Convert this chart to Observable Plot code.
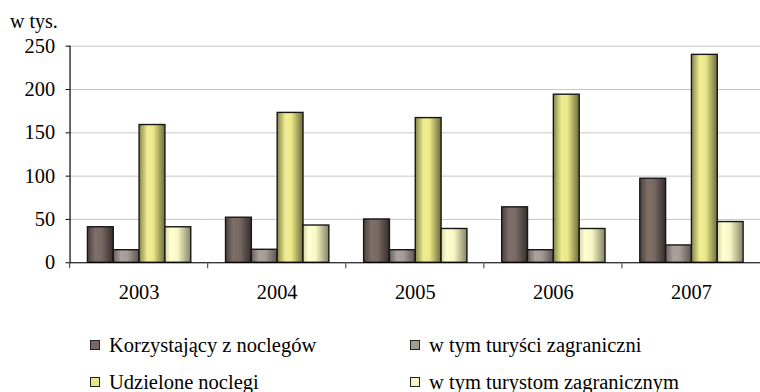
<!DOCTYPE html>
<html>
<head>
<meta charset="utf-8">
<script src="https://cdn.jsdelivr.net/npm/d3@7"></script>
<script src="https://cdn.jsdelivr.net/npm/@observablehq/plot@0.6"></script>
<style>
  html, body { margin: 0; padding: 0; background: #fff; overflow: hidden; }
  body { font-family: "Liberation Serif", "Tinos", "DejaVu Serif", serif; color: #000; }
  #wrap { position: relative; width: 760px; height: 392px; overflow: hidden; }
  #unit { position: absolute; left: 10px; top: 11px; font-size: 20px; line-height: 20px; }
  #legend { position: absolute; left: 0; top: 310px; width: 760px; }
  .item { position: absolute; font-size: 20.5px; line-height: 20px; white-space: nowrap; display: flex; align-items: center; }
  .sw { width: 8px; height: 8px; border: 1px solid #222; margin-right: 9px; }
  svg text { font-family: "Liberation Serif", "Tinos", "DejaVu Serif", serif; }
</style>
</head>
<body>
<svg width="0" height="0" style="position:absolute">
  <defs>
    <linearGradient id="g0" x1="0" x2="1" y1="0" y2="0">
      <stop offset="0%" stop-color="#4a403c"/>
      <stop offset="30%" stop-color="#7e6f69"/>
      <stop offset="55%" stop-color="#786964"/>
      <stop offset="100%" stop-color="#362e2b"/>
    </linearGradient>
    <linearGradient id="g1" x1="0" x2="1" y1="0" y2="0">
      <stop offset="0%" stop-color="#6a625f"/>
      <stop offset="30%" stop-color="#aba19d"/>
      <stop offset="55%" stop-color="#a59b97"/>
      <stop offset="100%" stop-color="#5c5451"/>
    </linearGradient>
    <linearGradient id="g2" x1="0" x2="1" y1="0" y2="0">
      <stop offset="0%" stop-color="#85844a"/>
      <stop offset="32%" stop-color="#f0ed92"/>
      <stop offset="55%" stop-color="#ece88a"/>
      <stop offset="100%" stop-color="#6c6b3a"/>
    </linearGradient>
    <linearGradient id="g3" x1="0" x2="1" y1="0" y2="0">
      <stop offset="0%" stop-color="#d6d6ac"/>
      <stop offset="22%" stop-color="#fefed2"/>
      <stop offset="50%" stop-color="#f7f6c4"/>
      <stop offset="100%" stop-color="#858366"/>
    </linearGradient>
  </defs>
</svg>
<div id="wrap">
  <div id="chart"></div>
  <div id="unit">w tys.</div>
  <div id="legend"></div>
</div>
<script>
const years = ["2003", "2004", "2005", "2006", "2007"];
const series = ["Korzystający z noclegów", "w tym turyści zagraniczni", "Udzielone noclegi", "w tym turystom zagranicznym"];
const korzystajacy = [41, 52, 50, 64, 97];
const turysciZagraniczni = [14.5, 15, 14.5, 14.5, 20];
const udzieloneNoclegi = [159, 173, 167, 194, 240];
const turystomZagranicznym = [41, 43, 39, 39, 47];
const yTicks = [0, 50, 100, 150, 200, 250];

const seriesValues = [korzystajacy, turysciZagraniczni, udzieloneNoclegi, turystomZagranicznym];
const fills = ["url(#g0)", "url(#g1)", "url(#g2)", "url(#g3)"];
const swatch = ["#776862", "#a39995", "#e8e48a", "#f6f5c6"];

const data = years.flatMap((year, i) =>
  series.map((s, j) => ({ year, series: s, value: seriesValues[j][i] }))
);

const serif = "'Liberation Serif', 'Tinos', 'DejaVu Serif', serif";

const chart = Plot.plot({
  width: 765,
  height: 310,
  marginLeft: 70,
  marginRight: 0,
  marginTop: 46,
  marginBottom: 46,
  style: { fontFamily: serif, fontSize: "20.5px", color: "#000", background: "transparent" },
  fx: { domain: years, padding: 0, label: null },
  x: { domain: series, paddingInner: 0, paddingOuter: 0.6, axis: null },
  y: { domain: [0, 250], label: null },
  color: { domain: series, range: fills },
  marks: [
    Plot.gridY(yTicks, { stroke: "#c6c6c6", strokeOpacity: 1, strokeWidth: 1 }),
    Plot.barY(data, { fx: "year", x: "series", y: "value", fill: "series", stroke: "#161616", strokeWidth: 1.4 }),
    Plot.ruleY([0], { stroke: "#000", strokeWidth: 1.2 }),
    Plot.frame({ anchor: "left", facetAnchor: "left", stroke: "#000", strokeWidth: 1.2 }),
    Plot.axisY(yTicks, { tickSize: 4, tickPadding: 11, fontSize: 20.5, label: null, stroke: "#000" }),
    Plot.axisFx({ anchor: "bottom", tickSize: 0, tickPadding: 22, fontSize: 20.5, label: null }),
    (index, scales, values, dimensions) => {
      // small tick at the left edge of each year's band, just below the baseline
      const y0 = scales.y(0);
      const g = d3.create("svg:g");
      g.append("line")
        .attr("x1", dimensions.marginLeft).attr("x2", dimensions.marginLeft)
        .attr("y1", y0).attr("y2", y0 + 6)
        .attr("stroke", "#555").attr("stroke-width", 1.2);
      return g.node();
    }
  ]
});
document.getElementById("chart").appendChild(chart);

const legend = document.getElementById("legend");
const pos = [[90, 25], [410, 25], [90, 62], [410, 62]];
series.forEach((s, j) => {
  const it = document.createElement("div");
  it.className = "item";
  it.style.left = pos[j][0] + "px";
  it.style.top = pos[j][1] + "px";
  const sw = document.createElement("span");
  sw.className = "sw";
  sw.style.background = swatch[j];
  const t = document.createElement("span");
  t.textContent = s;
  it.appendChild(sw);
  it.appendChild(t);
  legend.appendChild(it);
});
</script>
</body>
</html>
